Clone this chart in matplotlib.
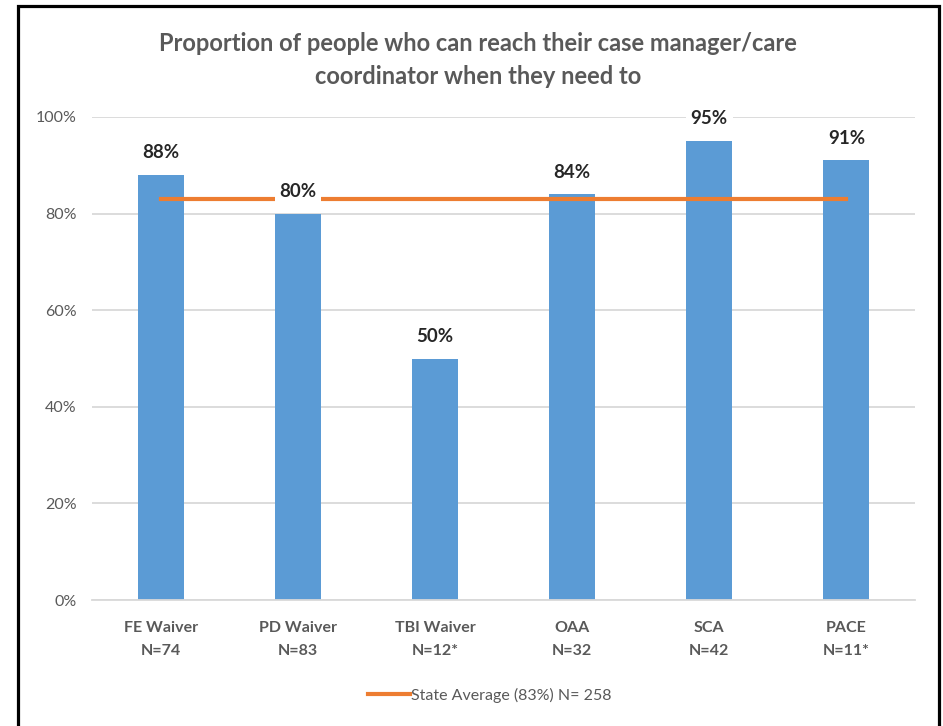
import matplotlib
matplotlib.use("Agg")
import matplotlib.pyplot as plt
from matplotlib.patches import Rectangle
from matplotlib.ticker import PercentFormatter

plt.rcParams['font.family'] = ['Lato', 'DejaVu Sans']

# program groups and the share who can reach their coordinator
programs = ["FE Waiver", "PD Waiver", "TBI Waiver", "OAA", "SCA", "PACE"]
sample_sizes = ["N=74", "N=83", "N=12*", "N=32", "N=42", "N=11*"]
pct_reach = [88, 80, 50, 84, 95, 91]
state_avg = 83
state_n = 258

title = "Proportion of people who can reach their case manager/care\ncoordinator when they need to"

grey = "#595959"
blue = "#5B9BD5"
orange = "#ED7D31"

fig = plt.figure(figsize=(9.43, 7.26), dpi=100)
ax = fig.add_axes([92 / 943, 1 - 600 / 726, (915 - 92) / 943, (600 - 117) / 726])

x = list(range(len(programs)))
ax.bar(x, pct_reach, width=0.335, color=blue, zorder=2)
ax.plot([x[0], x[-1]], [state_avg, state_avg], color=orange, lw=3, zorder=3,
        label=f"State Average ({state_avg}%) N= {state_n}")

for xi, v in zip(x, pct_reach):
    ax.annotate(f"{v}%", (xi, v), xytext=(0, 16), textcoords="offset points",
                ha="center", va="center", fontsize=13.5, fontweight="bold", color="#262626",
                bbox=dict(boxstyle="square,pad=0.25", fc="white", ec="none"), zorder=4)

ax.set_xlim(-0.5, len(programs) - 0.5)
ax.set_ylim(0, 100)
ax.set_yticks(range(0, 101, 20))
ax.yaxis.set_major_formatter(PercentFormatter(decimals=0))
ax.set_xticks(x)
ax.set_xticklabels([f"{p}\n{n}" for p, n in zip(programs, sample_sizes)],
                   fontsize=11.5, fontweight="bold", color=grey, linespacing=1.8)
ax.tick_params(axis="x", length=0, pad=15)
ax.tick_params(axis="y", length=0, pad=11, labelsize=11.5, labelcolor=grey)

ax.grid(axis="y", color="#D9D9D9", lw=1.3, zorder=0)
for side in ("left", "right", "top"):
    ax.spines[side].set_visible(False)
ax.spines["bottom"].set_color("#D9D9D9")
ax.spines["bottom"].set_linewidth(1.3)

fig.text(478 / 943, 1 - 60 / 726, title, ha="center", va="center", fontsize=17,
         fontweight="bold", color=grey, linespacing=1.5)

fig.legend(loc="center", bbox_to_anchor=(490 / 943, 1 - 695 / 726), frameon=False,
           fontsize=11.5, labelcolor=grey, handlelength=2.6, handletextpad=0.1)

# outer frame, open at the bottom edge of the image
fig.add_artist(Rectangle((18 / 943, -0.05), (939 - 18) / 943, 1.05 - 6 / 726,
                         transform=fig.transFigure, fill=False, ec="black", lw=2.3))

fig.savefig("out.png", dpi=100)
